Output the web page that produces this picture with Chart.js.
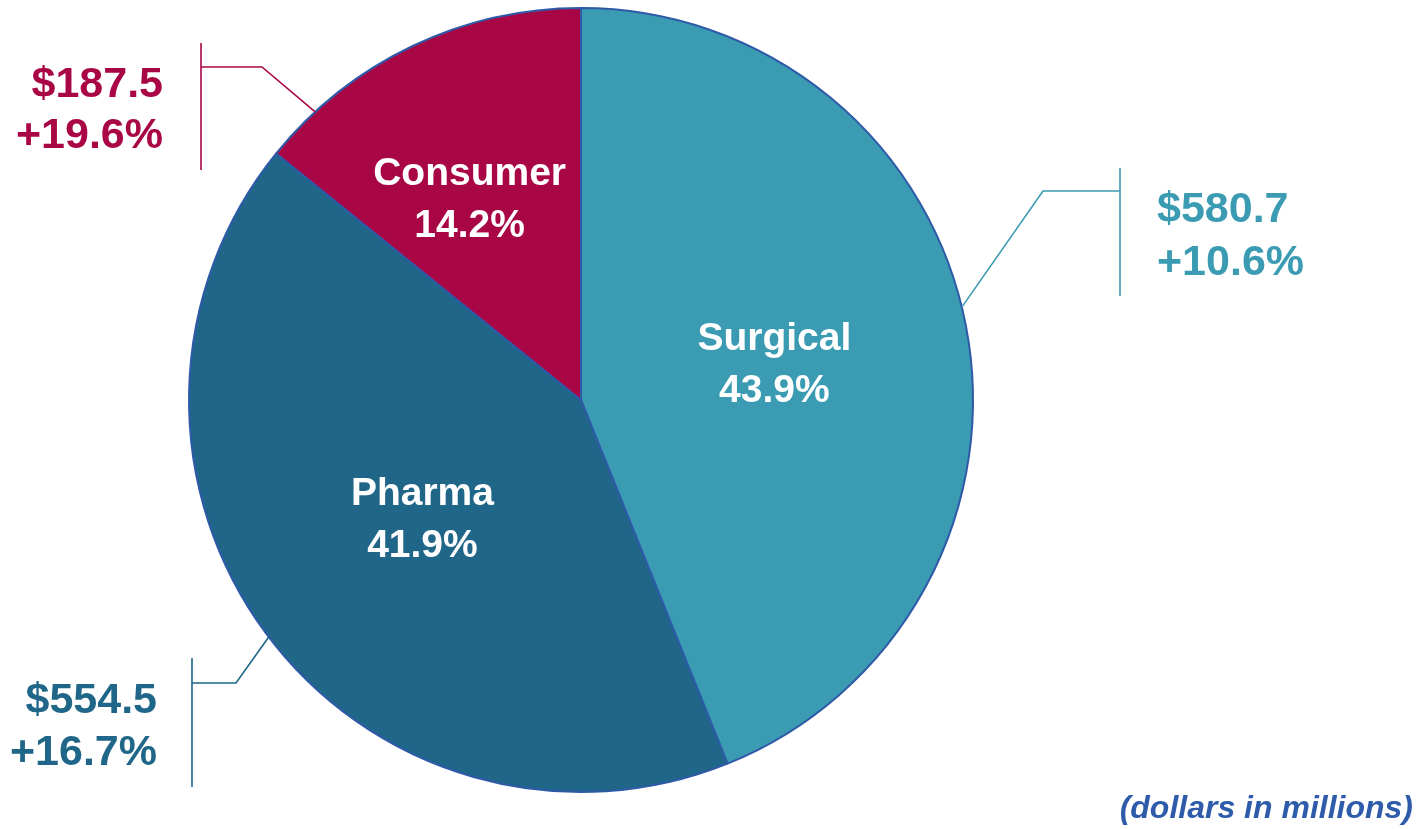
<!DOCTYPE html>
<html><head><meta charset="utf-8">
<script src="https://cdn.jsdelivr.net/npm/chart.js@4"></script>
<style>html,body{margin:0;padding:0;background:#fff;}#wrap{width:1428px;height:829px;position:relative;}</style>
</head><body><div id="wrap"><canvas id="c" width="1428" height="829"></canvas></div>
<script>
const categories = ["Surgical", "Pharma", "Consumer"];
const salesValues = [580.7, 554.5, 187.5];
const shareLabels = ["43.9%", "41.9%", "14.2%"];
const amountLabels = ["$580.7", "$554.5", "$187.5"];
const growthLabels = ["+10.6%", "+16.7%", "+19.6%"];
const sliceColors = ["#3A9BB2", "#1F6688", "#A90646"];
const noteText = "(dollars in millions)";

const FONT = "'Liberation Sans', Arial, sans-serif";

// per-slice label layout (styling/positions)
const labelLayout = [
  {inner: 0.505, innerAngleShift: 0, anchorDeg: 76.3, elbow: [1043, 191], bar: {x: 1120, y1: 168, y2: 296}, side: 'right', tx: 1157, b1: 222, b2: 275},
  {inner: 0.50, innerAngleShift: 0, anchorDeg: 232.8, elbow: [236, 683], bar: {x: 192, y1: 658, y2: 787}, side: 'left', tx: 157, b1: 713, b2: 765},
  {inner: 0.59, innerAngleShift: -3, anchorDeg: 317.3, elbow: [262, 67], bar: {x: 201, y1: 43, y2: 170}, side: 'left', tx: 163, b1: 97, b2: 148}
];

const labelPlugin = {
  id: 'labelPlugin',
  afterDatasetsDraw(chart) {
    const ctx = chart.ctx;
    const meta = chart.getDatasetMeta(0);
    meta.data.forEach((arc, i) => {
      const L = labelLayout[i];
      const cx = arc.x, cy = arc.y, r = arc.outerRadius;
      // inner label
      const mid = (arc.startAngle + arc.endAngle) / 2 + L.innerAngleShift * Math.PI / 180;
      const lx = cx + Math.cos(mid) * r * L.inner;
      const ly = cy + Math.sin(mid) * r * L.inner;
      ctx.save();
      ctx.fillStyle = '#ffffff';
      ctx.font = "bold 39px " + FONT;
      ctx.textAlign = 'center';
      ctx.textBaseline = 'alphabetic';
      ctx.fillText(categories[i], lx - 1, ly - 12);
      ctx.fillText(shareLabels[i], lx - 1, ly + 40);
      // leader line
      const a = (L.anchorDeg - 90) * Math.PI / 180;
      const ax = cx + Math.cos(a) * r, ay = cy + Math.sin(a) * r;
      ctx.strokeStyle = sliceColors[i];
      ctx.lineWidth = 1.6;
      ctx.beginPath();
      ctx.moveTo(ax, ay);
      ctx.lineTo(L.elbow[0], L.elbow[1]);
      ctx.lineTo(L.bar.x, L.elbow[1]);
      ctx.stroke();
      ctx.beginPath();
      ctx.moveTo(L.bar.x, L.bar.y1);
      ctx.lineTo(L.bar.x, L.bar.y2);
      ctx.stroke();
      // outside labels
      ctx.fillStyle = sliceColors[i];
      ctx.font = "bold 43px " + FONT;
      ctx.textAlign = L.side === 'left' ? 'right' : 'left';
      ctx.fillText(amountLabels[i], L.tx, L.b1);
      ctx.fillText(growthLabels[i], L.tx, L.b2);
      ctx.restore();
    });
    ctx.save();
    ctx.fillStyle = '#2E5CAA';
    ctx.font = "italic bold 32px " + FONT;
    ctx.textAlign = 'right';
    ctx.textBaseline = 'alphabetic';
    ctx.fillText(noteText, 1413, 818);
    ctx.restore();
  }
};

new Chart(document.getElementById('c'), {
  type: 'pie',
  data: {
    labels: categories,
    datasets: [{
      data: salesValues,
      backgroundColor: sliceColors,
      borderColor: '#2E5AA8',
      borderWidth: 2
    }]
  },
  options: {
    responsive: false,
    animation: false,
    layout: {padding: {left: 188, right: 454, top: 7, bottom: 36}},
    plugins: {legend: {display: false}, tooltip: {enabled: false}, title: {display: false}}
  },
  plugins: [labelPlugin]
});
</script>
</body></html>
